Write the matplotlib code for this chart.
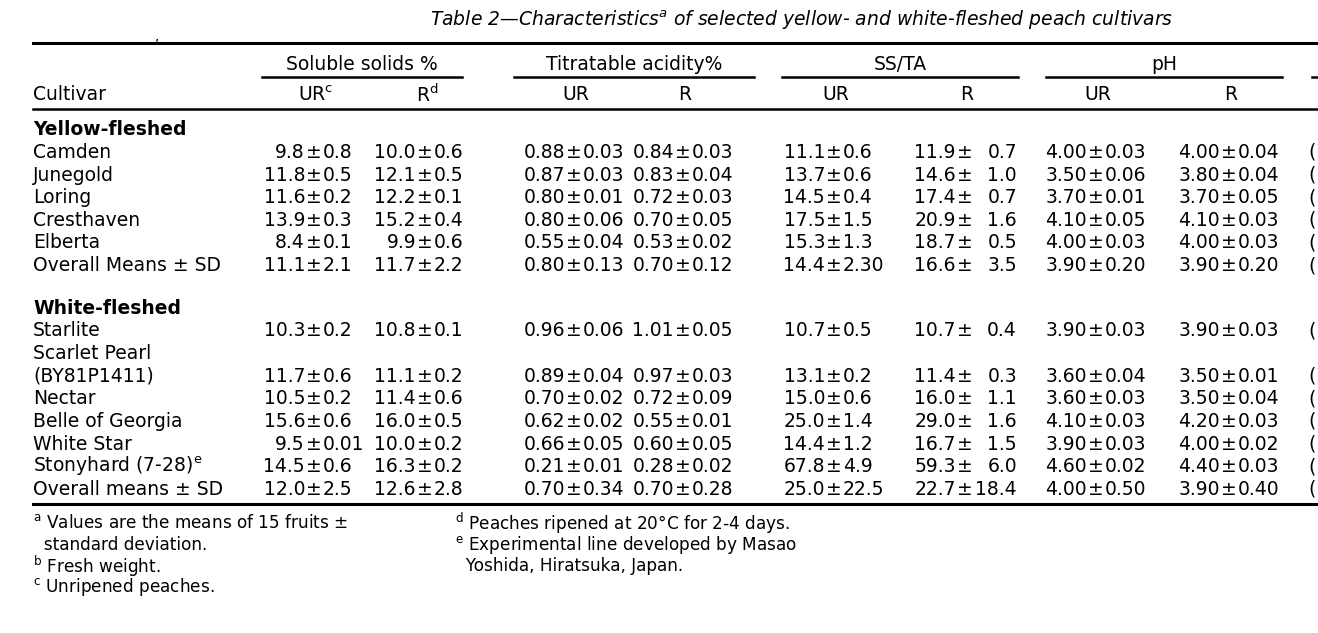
import matplotlib
matplotlib.use('Agg')
import matplotlib.pyplot as plt

plt.rcParams['font.family'] = ['DejaVu Sans']
plt.rcParams['mathtext.default'] = 'regular'

# ---- table content ----
title = 'Table 2\u2014Characteristics$^a$ of selected yellow- and white-fleshed peach cultivars'
groups = ['Soluble solids %', 'Titratable acidity%', 'SS/TA', 'pH']
subheads = ['UR$^c$', 'R$^d$', 'UR', 'R', 'UR', 'R', 'UR', 'R']

yellow_names = ['Camden', 'Junegold', 'Loring', 'Cresthaven', 'Elberta', 'Overall Means \u00b1 SD']
yellow_ss_ur = ['9.8\u00b10.8', '11.8\u00b10.5', '11.6\u00b10.2', '13.9\u00b10.3', '8.4\u00b10.1', '11.1\u00b12.1']
yellow_ss_r = ['10.0\u00b10.6', '12.1\u00b10.5', '12.2\u00b10.1', '15.2\u00b10.4', '9.9\u00b10.6', '11.7\u00b12.2']
yellow_ta_ur = ['0.88\u00b10.03', '0.87\u00b10.03', '0.80\u00b10.01', '0.80\u00b10.06', '0.55\u00b10.04', '0.80\u00b10.13']
yellow_ta_r = ['0.84\u00b10.03', '0.83\u00b10.04', '0.72\u00b10.03', '0.70\u00b10.05', '0.53\u00b10.02', '0.70\u00b10.12']
yellow_ssta_ur = ['11.1\u00b10.6', '13.7\u00b10.6', '14.5\u00b10.4', '17.5\u00b11.5', '15.3\u00b11.3', '14.4\u00b12.30']
yellow_ssta_r = ['11.9\u00b10.7', '14.6\u00b11.0', '17.4\u00b10.7', '20.9\u00b11.6', '18.7\u00b10.5', '16.6\u00b13.5']
yellow_ph_ur = ['4.00\u00b10.03', '3.50\u00b10.06', '3.70\u00b10.01', '4.10\u00b10.05', '4.00\u00b10.03', '3.90\u00b10.20']
yellow_ph_r = ['4.00\u00b10.04', '3.80\u00b10.04', '3.70\u00b10.05', '4.10\u00b10.03', '4.00\u00b10.03', '3.90\u00b10.20']

# Scarlet Pearl takes two lines, its values sit on the second one
white_names = ['Starlite', 'Scarlet Pearl', '(BY81P1411)', 'Nectar', 'Belle of Georgia',
               'White Star', 'Stonyhard (7-28)$^e$', 'Overall means \u00b1 SD']
white_rows = [0, 2, 3, 4, 5, 6, 7]
white_ss_ur = ['10.3\u00b10.2', '11.7\u00b10.6', '10.5\u00b10.2', '15.6\u00b10.6', '9.5\u00b10.01', '14.5\u00b10.6', '12.0\u00b12.5']
white_ss_r = ['10.8\u00b10.1', '11.1\u00b10.2', '11.4\u00b10.6', '16.0\u00b10.5', '10.0\u00b10.2', '16.3\u00b10.2', '12.6\u00b12.8']
white_ta_ur = ['0.96\u00b10.06', '0.89\u00b10.04', '0.70\u00b10.02', '0.62\u00b10.02', '0.66\u00b10.05', '0.21\u00b10.01', '0.70\u00b10.34']
white_ta_r = ['1.01\u00b10.05', '0.97\u00b10.03', '0.72\u00b10.09', '0.55\u00b10.01', '0.60\u00b10.05', '0.28\u00b10.02', '0.70\u00b10.28']
white_ssta_ur = ['10.7\u00b10.5', '13.1\u00b10.2', '15.0\u00b10.6', '25.0\u00b11.4', '14.4\u00b11.2', '67.8\u00b14.9', '25.0\u00b122.5']
white_ssta_r = ['10.7\u00b10.4', '11.4\u00b10.3', '16.0\u00b11.1', '29.0\u00b11.6', '16.7\u00b11.5', '59.3\u00b16.0', '22.7\u00b118.4']
white_ph_ur = ['3.90\u00b10.03', '3.60\u00b10.04', '3.60\u00b10.03', '4.10\u00b10.03', '3.90\u00b10.03', '4.60\u00b10.02', '4.00\u00b10.50']
white_ph_r = ['3.90\u00b10.03', '3.50\u00b10.01', '3.50\u00b10.04', '4.20\u00b10.03', '4.00\u00b10.02', '4.40\u00b10.03', '3.90\u00b10.40']

foot_left = ['$^a$ Values are the means of 15 fruits \u00b1', '  standard deviation.',
             '$^b$ Fresh weight.', '$^c$ Unripened peaches.']
foot_right = ['$^d$ Peaches ripened at 20\u00b0C for 2-4 days.',
              '$^e$ Experimental line developed by Masao', '  Yoshida, Hiratsuka, Japan.']

# ---- layout (pixel units of a 1318x633 canvas) ----
FS = 13.5
FS_FOOT = 12.2
X0 = 33
pm_x = [312, 423, 572, 681, 832, 963, 1094, 1227]      # position of the \u00b1 sign per column
right_sd = {5: 1017}                                   # SS/TA R has right aligned sd
group_lines = [(262, 462), (514, 754), (782, 1018), (1046, 1282)]
y_group, y_gline, y_sub = 64, 77, 95
row_h = 22.6
y_yellow, y_white = 152.5, 331

fig = plt.figure(figsize=(13.18, 6.33), dpi=100)
ax = fig.add_axes([0, 0, 1, 1])
ax.set_xlim(0, 1318)
ax.set_ylim(633, 0)
ax.axis('off')


def cell(x, y, s, col):
    mean, sd = s.split('\u00b1')
    ax.text(x - 7, y, mean, ha='right', va='center', fontsize=FS)
    ax.text(x + 2, y, '\u00b1', ha='center', va='center', fontsize=FS)
    if col in right_sd:
        ax.text(right_sd[col], y, sd, ha='right', va='center', fontsize=FS)
    else:
        ax.text(x + 11, y, sd, ha='left', va='center', fontsize=FS)


ax.text(430, 20, title, ha='left', va='center', fontsize=FS, style='italic')
ax.text(157, 36, ',', ha='center', va='center', fontsize=10)
ax.plot([X0, 1318], [43, 43], color='k', lw=2.2)

for (a, b), g in zip(group_lines, groups):
    ax.text((a + b) / 2, y_group, g, ha='center', va='center', fontsize=FS)
    ax.plot([a, b], [y_gline, y_gline], color='k', lw=1.8)
ax.plot([1312, 1318], [y_gline, y_gline], color='k', lw=1.8)

ax.text(X0, y_sub, 'Cultivar', ha='left', va='center', fontsize=FS)
for x, s in zip(pm_x, subheads):
    ax.text(x + 4, y_sub, s, ha='center', va='center', fontsize=FS)
ax.plot([X0, 1318], [109, 109], color='k', lw=1.8)

ax.text(X0, y_yellow - row_h, 'Yellow-fleshed', ha='left', va='center', fontsize=FS, weight='bold')
yellow_cols = [yellow_ss_ur, yellow_ss_r, yellow_ta_ur, yellow_ta_r,
               yellow_ssta_ur, yellow_ssta_r, yellow_ph_ur, yellow_ph_r]
for i, name in enumerate(yellow_names):
    y = y_yellow + i * row_h
    ax.text(X0, y, name, ha='left', va='center', fontsize=FS)
    for c, col in enumerate(yellow_cols):
        cell(pm_x[c], y, col[i], c)
    # edge of the next (cut off) column
    ax.text(1308, y, '(', ha='left', va='center', fontsize=FS)

ax.text(X0, y_white - row_h, 'White-fleshed', ha='left', va='center', fontsize=FS, weight='bold')
white_cols = [white_ss_ur, white_ss_r, white_ta_ur, white_ta_r,
              white_ssta_ur, white_ssta_r, white_ph_ur, white_ph_r]
for i, name in enumerate(white_names):
    ax.text(X0, y_white + i * row_h, name, ha='left', va='center', fontsize=FS)
for j, r in enumerate(white_rows):
    y = y_white + r * row_h
    for c, col in enumerate(white_cols):
        cell(pm_x[c], y, col[j], c)
    ax.text(1308, y, '(', ha='left', va='center', fontsize=FS)

ax.plot([X0, 1318], [504, 504], color='k', lw=2.2)

for i, s in enumerate(foot_left):
    ax.text(X0, 523 + i * 21.5, s, ha='left', va='center', fontsize=FS_FOOT)
for i, s in enumerate(foot_right):
    ax.text(455, 523 + i * 21.5, s, ha='left', va='center', fontsize=FS_FOOT)

fig.savefig('out.png', dpi=100)
